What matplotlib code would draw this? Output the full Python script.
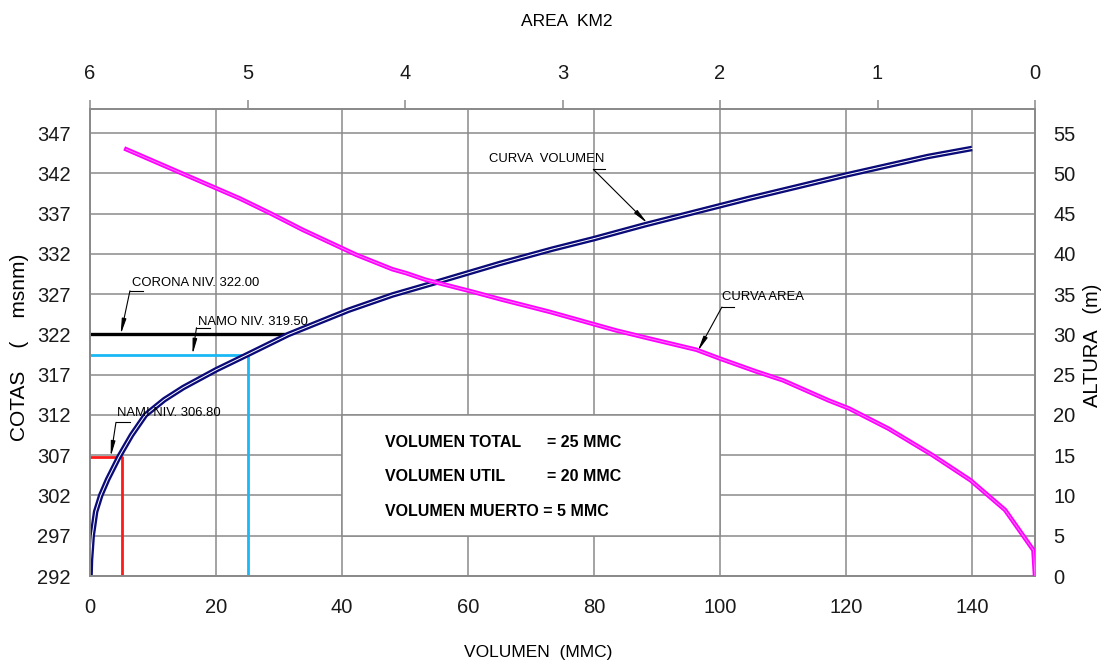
import numpy as np
import matplotlib.pyplot as plt
from matplotlib.patches import Rectangle

# curva volumen: volumen (MMC) vs cota (msnm)
vol = [0, 0.08, 0.35, 0.9, 1.7, 2.8, 4.6, 6.6, 8.8, 11.8, 14.8, 20, 25, 31.5, 41, 48, 55.5, 65,
       73.4, 80, 88, 104.6, 120, 133, 140]
vol_cota = [292, 294, 297, 300, 302, 304, 306.8, 309.5, 312, 313.9, 315.4, 317.6, 319.5, 322, 325,
            326.9, 328.6, 330.8, 332.6, 333.9, 335.6, 338.9, 341.8, 344.1, 345.1]

# curva area: area (km2) vs cota (msnm)
area = [5.77, 5.05, 4.85, 4.65, 4.31, 4.08, 3.99, 3.87, 3.57, 3.40, 3.08, 2.66, 2.45, 2.15, 2.00,
        1.77, 1.60, 1.31, 1.18, 0.93, 0.65, 0.41, 0.19, 0.01, 0]
area_cota = [345, 338.9, 337.0, 335, 331.9, 330.1, 329.6, 328.8, 327.3, 326.4, 324.8, 322.5, 321.5,
             320.1, 319.0, 317.4, 316.3, 313.8, 312.8, 310.3, 307.0, 303.9, 300.2, 295.2, 292]

# niveles
corona = 322.00
namo = 319.50
nami = 306.80
vol_namo = 25
vol_nami = 5

resumen = [("VOLUMEN TOTAL", "= 25 MMC"), ("VOLUMEN UTIL", "= 20 MMC")]
resumen_ultimo = "VOLUMEN MUERTO = 5 MMC"

vol_ticks = list(range(0, 141, 20))
cota_ticks = list(range(292, 348, 5))
altura_ticks = list(range(0, 56, 5))
area_ticks = [6, 5, 4, 3, 2, 1, 0]

FONT = 'Liberation Sans'
GRID = '#8a8a8a'
TXT = '#1a1a1a'

fig = plt.figure(figsize=(11.04, 6.62), dpi=100)
ax = fig.add_axes([90 / 1104, 86 / 662, 945 / 1104, 467 / 662])
ax.set_xlim(0, 150)
ax.set_ylim(292, 350)
ax.set_xticks(vol_ticks)
ax.set_yticks(cota_ticks)
ax.grid(True, color=GRID, lw=1.1)
ax.tick_params(length=0, labelsize=14.5, labelcolor=TXT)
ax.tick_params(axis='x', pad=16)
ax.tick_params(axis='y', pad=14)
for lab in ax.get_xticklabels() + ax.get_yticklabels():
    lab.set_family(FONT)

# eje derecho: altura
ax2 = ax.twinx()
ax2.set_ylim(0, 58)
ax2.set_yticks(altura_ticks)
ax2.tick_params(length=0, labelsize=14.5, labelcolor=TXT, pad=13)
for lab in ax2.get_yticklabels():
    lab.set_family(FONT)

# eje superior: area
ax3 = ax.twiny()
ax3.set_xlim(6, 0)
ax3.set_xticks(area_ticks)
ax3.tick_params(direction='out', length=6.5, width=1.1, color=GRID, labelsize=14.5,
                labelcolor=TXT, pad=12)
for lab in ax3.get_xticklabels():
    lab.set_family(FONT)

for a in (ax, ax2, ax3):
    for s in a.spines.values():
        s.set_color(GRID)
        s.set_linewidth(1.1)

# niveles
vol_corona = np.interp(corona, vol_cota, vol)
ax.plot([0, vol_corona], [corona, corona], color='black', lw=2.4, zorder=3)
ax.plot([0, vol_namo, vol_namo], [namo, namo, 292], color='#1ab8f5', lw=2, zorder=3)
ax.plot([0, vol_nami, vol_nami], [nami, nami, 292], color='#ff1a1a', lw=2, zorder=3)

# curva volumen (doble linea)
ax.plot(vol, vol_cota, color='#0a0a78', lw=4, zorder=4, solid_capstyle='butt')
ax.plot(vol, vol_cota, color='white', lw=0.7, zorder=5)

# curva area
ax3.plot(area, area_cota, color='#ff00ff', lw=3.2, zorder=4)
ax3.plot(area, area_cota, color='#ff7aff', lw=0.7, zorder=5)

# cuadro resumen
ax.add_patch(Rectangle((40, 297), 60, 15, facecolor='white', edgecolor=GRID, lw=1.1, zorder=1.8))
for i, (nombre, valor) in enumerate(resumen):
    y = 308.55 - 4.25 * i
    ax.text(46.9, y, nombre, family=FONT, fontsize=11.5, fontweight='bold', va='center', zorder=6)
    ax.text(72.5, y, valor, family=FONT, fontsize=11.5, fontweight='bold', va='center', zorder=6)
ax.text(46.9, 300.0, resumen_ultimo, family=FONT, fontsize=11.5, fontweight='bold', va='center', zorder=6)


def leader(texto, tx, ty, x0, x1, yl, tip, size=9.4):
    ax.text(tx, ty, texto, family=FONT, fontsize=size, va='center', zorder=6)
    ax.plot([x0, x1], [yl, yl], color='black', lw=0.8, zorder=6)
    ax.annotate('', xy=tip, xytext=(x0, yl), zorder=6,
                arrowprops=dict(arrowstyle='-|>,head_length=0.9,head_width=0.13',
                                color='black', lw=0.8, shrinkA=0, shrinkB=0))


leader('CORONA NIV. 322.00', 6.6, 328.4, 6.34, 8.36, 327.42, (4.87, 322.0))
leader('NAMO NIV. 319.50', 17.2, 323.6, 16.9, 19.1, 322.83, (16.27, 319.5))
leader('NAMI NIV. 306.80', 4.33, 312.2, 4.12, 6.34, 311.08, (3.28, 306.8))
leader('CURVA  VOLUMEN', 63.3, 343.8, 79.9, 81.7, 342.5, (88.5, 335.8))
leader('CURVA AREA', 100.3, 326.6, 100.3, 102.3, 325.4, (96.45, 319.9))

# titulos de ejes
fig.text(567 / 1104, 1 - 22 / 662, 'AREA  KM2', family=FONT, fontsize=12.5, ha='center', va='center')
fig.text(538 / 1104, 1 - 652 / 662, 'VOLUMEN  (MMC)', family=FONT, fontsize=12.5, ha='center', va='center')
fig.text(20 / 1104, 1 - 347 / 662, 'COTAS    (    msnm)', family=FONT, fontsize=15, rotation=90,
         ha='center', va='center')
fig.text(1092 / 1104, 1 - 345 / 662, 'ALTURA   (m)', family=FONT, fontsize=14.5, rotation=90,
         ha='center', va='center')

plt.savefig('out.png', dpi=100)
